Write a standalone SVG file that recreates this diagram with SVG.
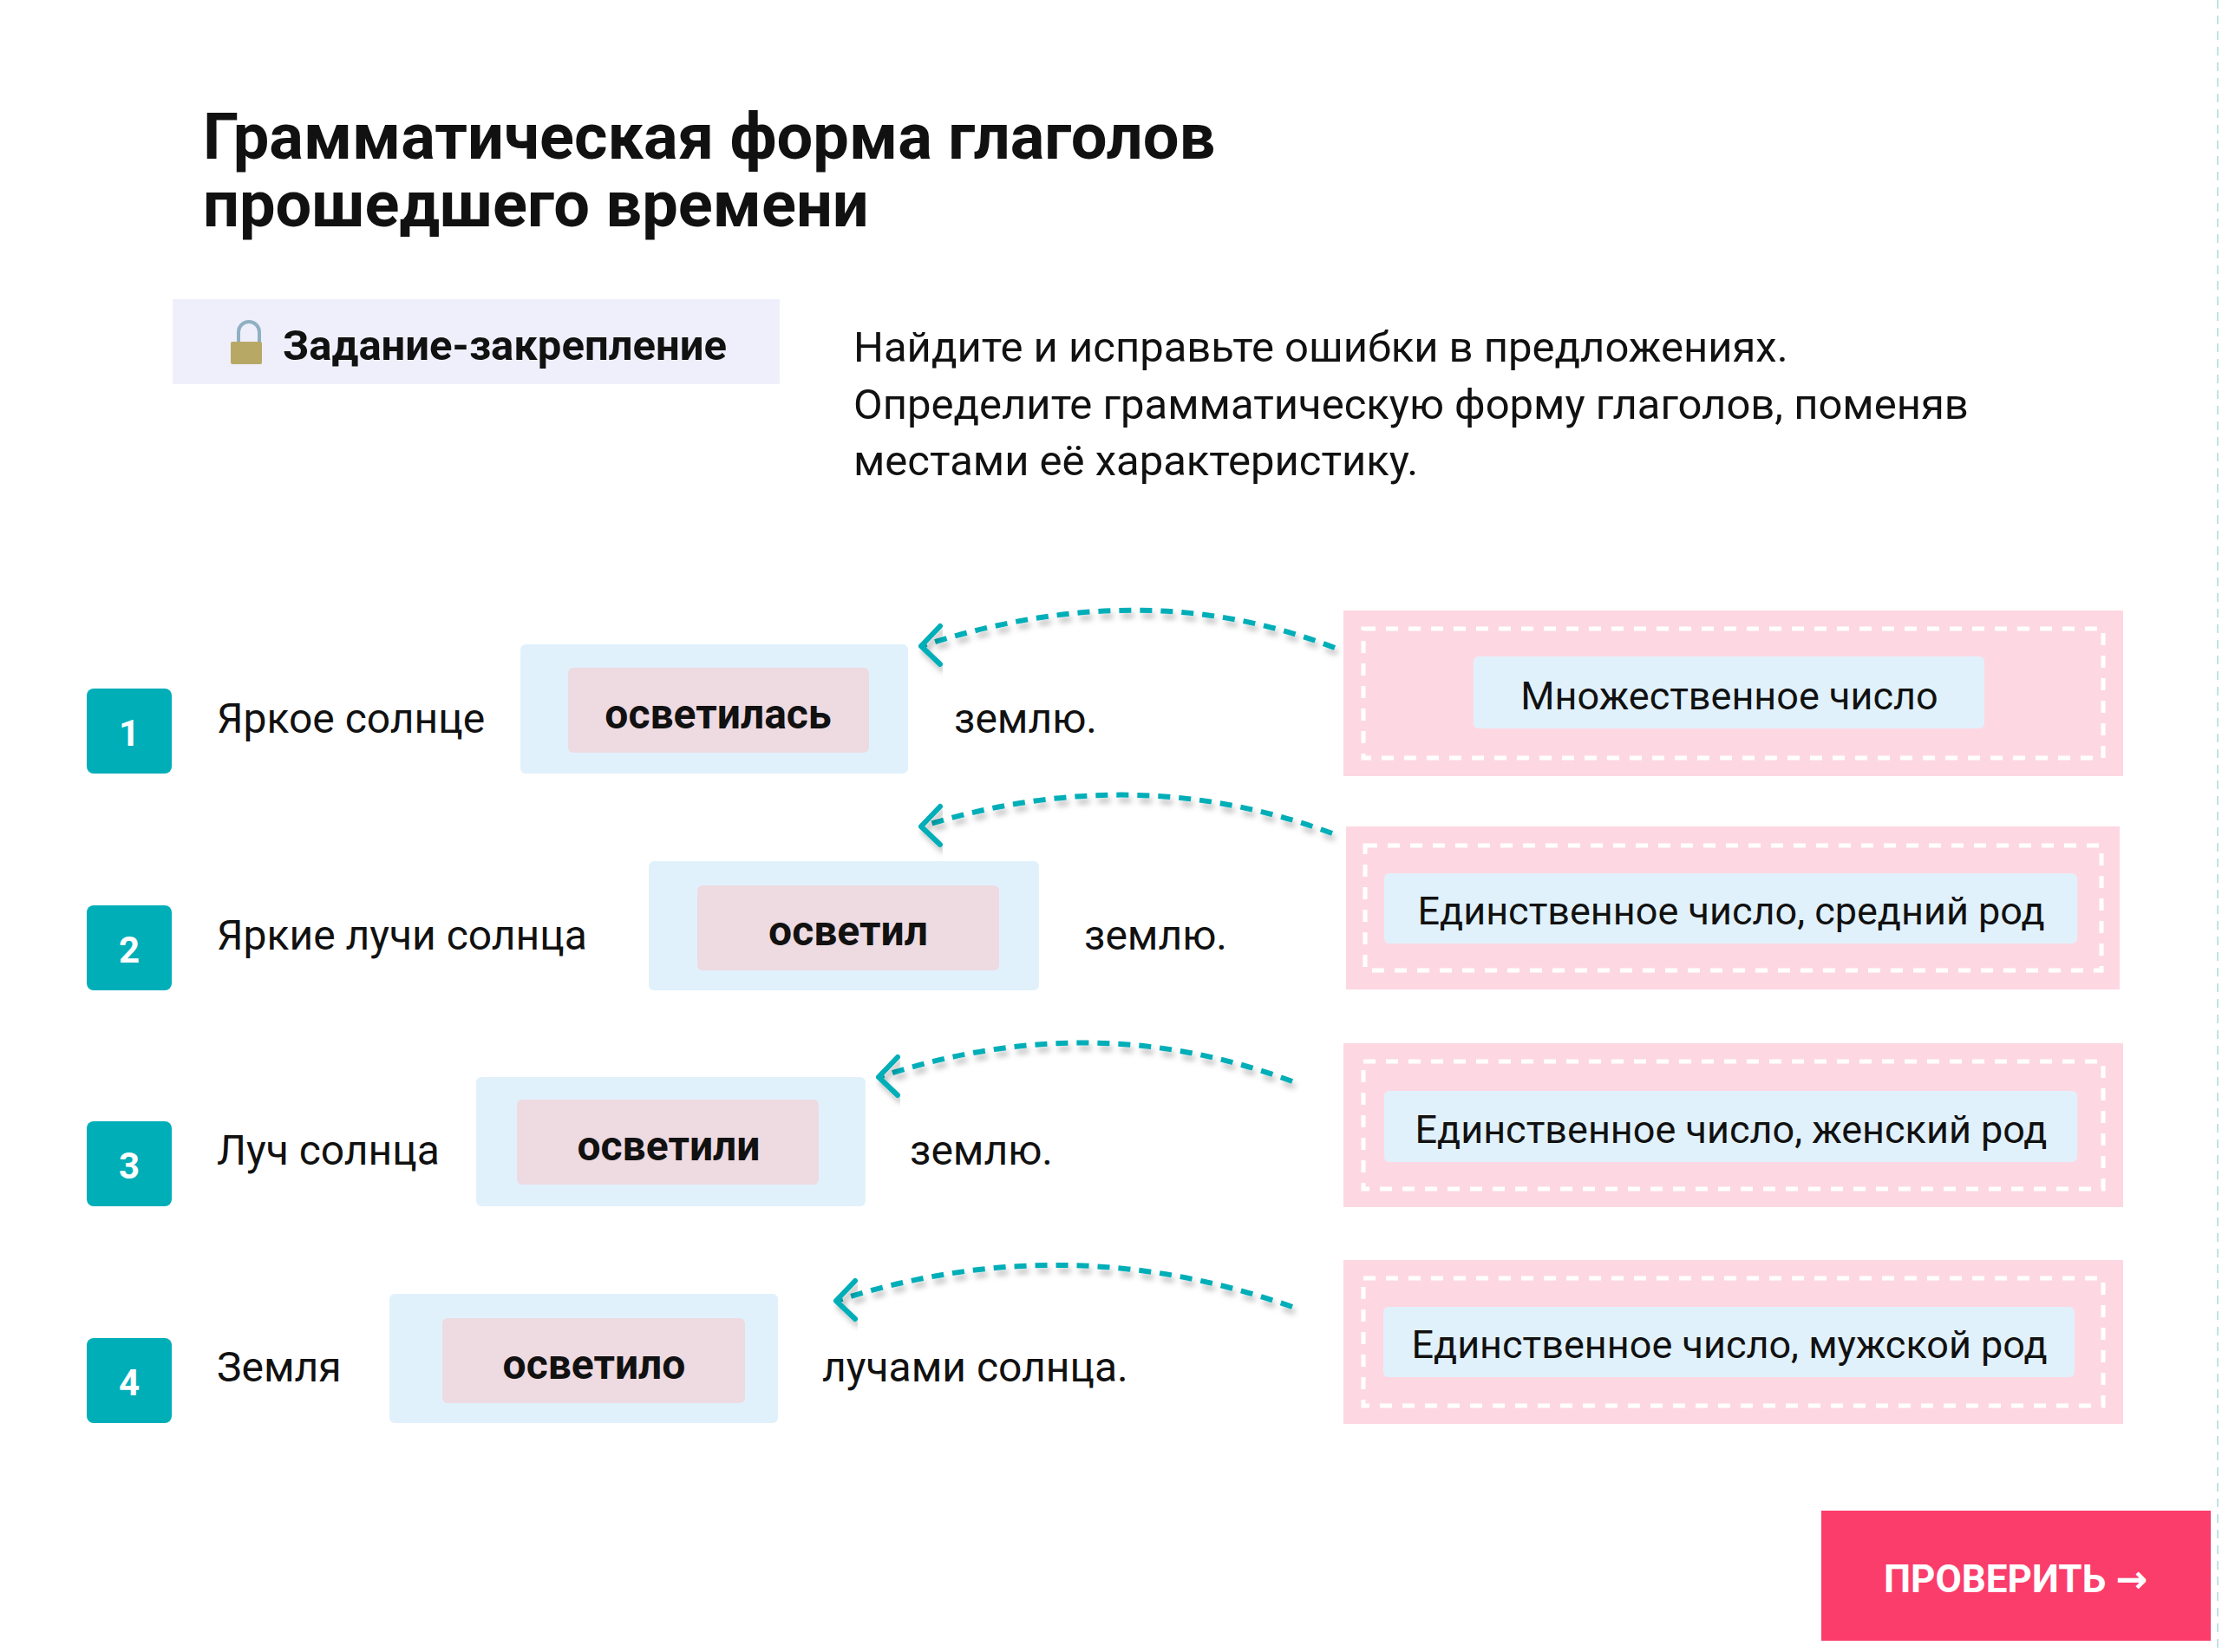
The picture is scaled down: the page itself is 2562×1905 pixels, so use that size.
<svg xmlns="http://www.w3.org/2000/svg" width="2562" height="1905" viewBox="0 0 2562 1905">
<style>
text{font-family:Roboto,"Liberation Sans",sans-serif;fill:#111}
.t{font-size:74px;font-weight:700}
.b{font-size:48px}
.ins{font-size:49px}
.w{font-size:48px;font-weight:700;text-anchor:middle}
.l{font-size:45px;text-anchor:middle}
.n{font-size:42px;font-weight:700;fill:#fff;text-anchor:middle}
.num{fill:#00AEB8}
.blue{fill:#E1F1FC}
.pk{fill:#EEDAE1}
.rp{fill:#FDD8E2}
.dash{fill:none;stroke:#fff;stroke-width:5;stroke-dasharray:14 12}
.arr{fill:none;stroke:#00AEB8;stroke-width:6;stroke-dasharray:14 10;filter:url(#sh)}
.head{fill:none;stroke:#00AEB8;stroke-width:6;stroke-linecap:round;stroke-linejoin:round;filter:url(#sh)}
</style>
<defs>
<filter id="sh" x="-10%" y="-50%" width="120%" height="200%"><feDropShadow dx="3" dy="6" stdDeviation="3" flood-color="#000" flood-opacity="0.25"/></filter>
</defs>
<rect width="2562" height="1905" fill="#fff"/>
<line x1="2557" y1="0" x2="2557" y2="1905" stroke="#bfe3e6" stroke-width="2" stroke-dasharray="10 8"/>
<g id="title">
<text class="t" x="234" y="183">Грамматическая форма глаголов</text>
<text class="t" x="234" y="261">прошедшего времени</text>
</g>
<g id="badge">
<rect x="199" y="345" width="700" height="98" fill="#EFEFFC"/>
<path d="M275 395 v-12 a12 12 0 0 1 24 0 v12" fill="none" stroke="#8fb0c0" stroke-width="4"/>
<rect x="266" y="394" width="36" height="26" rx="2" fill="#b8a865"/>
<text x="326" y="415" style="font-size:49px;font-weight:700">Задание-закрепление</text>
</g>
<g id="instruction">
<text class="ins" x="984" y="417">Найдите и исправьте ошибки в предложениях.</text>
<text class="ins" x="984" y="483">Определите грамматическую форму глаголов, поменяв</text>
<text class="ins" x="984" y="548">местами её характеристику.</text>
</g>
<g id="row1">
<rect class="num" x="100" y="794" width="98" height="98" rx="8"/><text class="n" x="149" y="860">1</text>
<text class="b" x="250" y="845">Яркое солнце</text>
<rect class="blue" x="600" y="743" width="447" height="149" rx="6"/>
<rect class="pk" x="655" y="770" width="347" height="98" rx="6"/>
<text class="w" x="828" y="840">осветилась</text>
<text class="b" x="1100" y="845">землю.</text>
</g>
<g id="row2">
<rect class="num" x="100" y="1044" width="98" height="98" rx="8"/><text class="n" x="149" y="1110">2</text>
<text class="b" x="250" y="1095">Яркие лучи солнца</text>
<rect class="blue" x="748" y="993" width="450" height="149" rx="6"/>
<rect class="pk" x="804" y="1021" width="348" height="98" rx="6"/>
<text class="w" x="978" y="1090">осветил</text>
<text class="b" x="1250" y="1095">землю.</text>
</g>
<g id="row3">
<rect class="num" x="100" y="1293" width="98" height="98" rx="8"/><text class="n" x="149" y="1359">3</text>
<text class="b" x="250" y="1343">Луч солнца</text>
<rect class="blue" x="549" y="1242" width="449" height="149" rx="6"/>
<rect class="pk" x="596" y="1268" width="348" height="98" rx="6"/>
<text class="w" x="771" y="1338">осветили</text>
<text class="b" x="1049" y="1343">землю.</text>
</g>
<g id="row4">
<rect class="num" x="100" y="1543" width="98" height="98" rx="8"/><text class="n" x="149" y="1609">4</text>
<text class="b" x="250" y="1593">Земля</text>
<rect class="blue" x="449" y="1492" width="448" height="149" rx="6"/>
<rect class="pk" x="510" y="1520" width="349" height="98" rx="6"/>
<text class="w" x="685" y="1590">осветило</text>
<text class="b" x="948" y="1593">лучами солнца.</text>
</g>
<g id="opt1">
<rect class="rp" x="1549" y="704" width="899" height="191"/>
<rect class="dash" x="1572" y="725" width="853" height="149"/>
<rect class="blue" x="1699" y="757" width="589" height="83" rx="6"/>
<text class="l" x="1994" y="818">Множественное число</text>
</g>
<g id="opt2">
<rect class="rp" x="1552" y="953" width="892" height="188"/>
<rect class="dash" x="1574" y="975" width="849" height="144"/>
<rect class="blue" x="1596" y="1007" width="799" height="81" rx="6"/>
<text class="l" x="1996" y="1066">Единственное число, средний род</text>
</g>
<g id="opt3">
<rect class="rp" x="1549" y="1203" width="899" height="189"/>
<rect class="dash" x="1572" y="1224" width="853" height="147"/>
<rect class="blue" x="1596" y="1258" width="799" height="82" rx="6"/>
<text class="l" x="1996" y="1318">Единственное число, женский род</text>
</g>
<g id="opt4">
<rect class="rp" x="1549" y="1453" width="899" height="189"/>
<rect class="dash" x="1572" y="1474" width="853" height="147"/>
<rect class="blue" x="1595" y="1507" width="797" height="81" rx="6"/>
<text class="l" x="1994" y="1566">Единственное число, мужской род</text>
</g>
<g id="connectors">
<path class="arr" d="M1539 747 Q1320 662 1066 744"/>
<path class="head" d="M1084 722 L1062 745 L1084 766"/>
<path class="arr" d="M1536 961 Q1310 877 1066 952"/>
<path class="head" d="M1084 930 L1062 953 L1084 974"/>
<path class="arr" d="M1490 1247 Q1260 1161 1017 1241"/>
<path class="head" d="M1035 1219 L1013 1242 L1035 1263"/>
<path class="arr" d="M1490 1507 Q1230 1415 968 1499"/>
<path class="head" d="M986 1477 L964 1500 L986 1521"/>
</g>
<g id="button">
<rect x="2100" y="1742" width="449" height="150" fill="#FB3D6C"/>
<text x="2324" y="1836" style="font-size:44px;font-weight:700;fill:#fff;text-anchor:middle">ПРОВЕРИТЬ <tspan style="font-family:'DejaVu Sans',sans-serif;fill:#fff">→</tspan></text>
</g>
</svg>
